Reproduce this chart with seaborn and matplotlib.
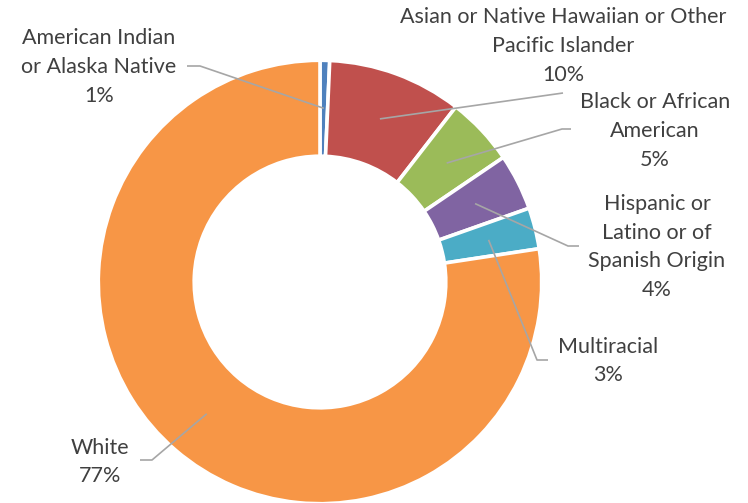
import matplotlib
matplotlib.use("Agg")
import matplotlib.pyplot as plt
import numpy as np
import seaborn as sns

# Enrollment share by race / ethnicity (percent)
groups = [
    "American Indian\nor Alaska Native",
    "Asian or Native Hawaiian or Other\nPacific Islander",
    "Black or African\nAmerican",
    "Hispanic or\nLatino or of\nSpanish Origin",
    "Multiracial",
    "White",
]
shares = [0.7, 9.8, 5.0, 4.1, 3.0, 77.4]
colors = ["#4F81BD", "#C0504D", "#9BBB59", "#8064A2", "#4BACC6", "#F79646"]

sns.set_theme(style="white")
plt.rcParams["font.family"] = ["Lato", "DejaVu Sans"]

W, H = 748, 503
fig = plt.figure(figsize=(W / 100, H / 100), dpi=100)
ax = fig.add_axes([0, 0, 1, 1])


def up(y):
    """Convert a top-down pixel row into the axis' bottom-up coordinate."""
    return H - y


cx, cy = 320, up(282)
outer, ring = 221.7, 95.9
wedges, _ = ax.pie(
    shares,
    colors=sns.color_palette(colors),
    startangle=90,
    counterclock=False,
    center=(cx, cy),
    radius=outer,
    wedgeprops=dict(width=ring, edgecolor="white", linewidth=2.6),
)
ax.set_xlim(0, W)
ax.set_ylim(0, H)
ax.set_aspect("equal")
ax.axis("off")

# label block centre, leader knee and leader end (pixel rows from top)
label_pos = [(99, 67), (563, 46), (655, 131), (657, 247), (608, 361), (100, 462)]
knees = [(200, 66), (563, 93), (562, 129), (568, 246), (537, 360), (152, 460)]
ends = [(187, 66), (563, 93), (571, 129), (579, 246), (548, 360), (140, 460)]

r_mid = outer - ring / 2
text_color = "#404040"
line_color = "#A6A6A6"
for w, name, val, (lx, ly), (kx, ky), (ex, ey) in zip(
    wedges, groups, shares, label_pos, knees, ends
):
    ang = np.deg2rad((w.theta1 + w.theta2) / 2)
    px, py = cx + r_mid * np.cos(ang), cy + r_mid * np.sin(ang)
    ax.plot([px, kx, ex], [py, up(ky), up(ey)], color=line_color, lw=1.2,
            solid_capstyle="butt", zorder=3)
    ax.text(lx, up(ly), f"{name}\n{round(val)}%", ha="center", va="center",
            multialignment="center", fontsize=15.5, color=text_color,
            linespacing=1.55)

fig.savefig("out.png", dpi=100)
